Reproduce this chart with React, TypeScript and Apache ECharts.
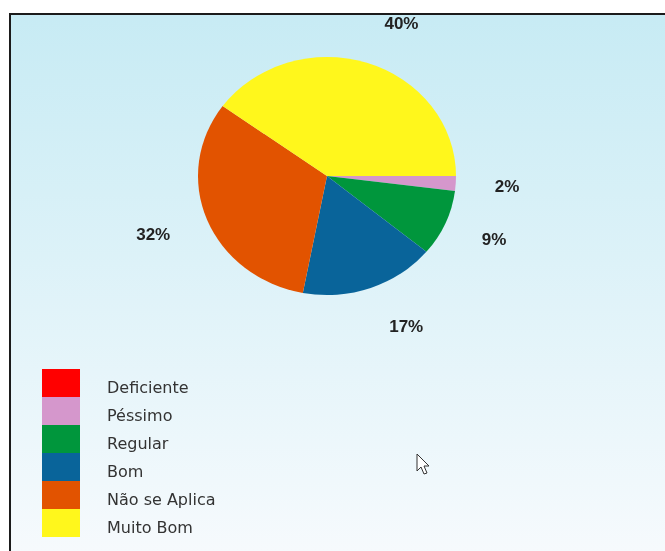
import React, { useEffect, useRef } from 'react';
import * as echarts from 'echarts';

const categories = ['Deficiente', 'Péssimo', 'Regular', 'Bom', 'Não se Aplica', 'Muito Bom'];
const values = [0, 2, 9, 17, 32, 40];
const colors = ['#ff0000', '#d597cc', '#00963c', '#09649a', '#e25300', '#fff71c'];

const W = 656;
const H = 538;
const CX = 318;
const CY = 163;
const R = 129;
const SCALE_Y = 119 / 129;

export default function App() {
  const mainRef = useRef<HTMLDivElement>(null);
  const pieRef = useRef<HTMLDivElement>(null);

  useEffect(() => {
    const main = echarts.init(mainRef.current!, null, { renderer: 'svg' });
    const pie = echarts.init(pieRef.current!, null, { renderer: 'svg' });

    main.setOption({
      animation: false,
      graphic: [
        {
          type: 'rect',
          z: -10,
          silent: true,
          shape: { x: 0, y: 0, width: W, height: H },
          style: {
            fill: new echarts.graphic.LinearGradient(0, 0, 0, 1, [
              { offset: 0, color: '#c7ebf4' },
              { offset: 1, color: '#f6fafd' },
            ]),
          },
        },
        { type: 'rect', z: 10, silent: true, shape: { x: 0, y: 0, width: 2, height: H }, style: { fill: '#1b1b1b' } },
        { type: 'rect', z: 10, silent: true, shape: { x: 0, y: 0, width: W, height: 2 }, style: { fill: '#1b1b1b' } },
        {
          type: 'polygon',
          z: 20,
          silent: true,
          x: 408,
          y: 441,
          shape: { points: [[0, 0], [0, 17], [4, 13], [7, 20], [10, 19], [7, 12], [12, 12]] },
          style: { fill: '#ffffff', stroke: '#333333', lineWidth: 1 },
        },
      ],
      legend: {
        orient: 'vertical',
        left: 28,
        top: 351,
        itemWidth: 38,
        itemHeight: 28,
        itemGap: 0,
        icon: 'rect',
        selectedMode: false,
        data: categories.map((n, i) => ({ name: n, itemStyle: { color: colors[i], borderWidth: 0 } })),
        formatter: '{a|{name}}',
        textStyle: {
          fontFamily: '"DejaVu Sans", sans-serif',
          fontSize: 16,
          color: '#333333',
          rich: {
            a: {
              fontFamily: '"DejaVu Sans", sans-serif',
              fontSize: 16,
              color: '#333333',
              lineHeight: 16,
              padding: [9, 0, 0, 22],
            },
          },
        },
      },
      series: [
        {
          type: 'pie',
          center: [CX, CY],
          radius: R,
          startAngle: 0,
          clockwise: true,
          avoidLabelOverlap: false,
          silent: true,
          emphasis: { disabled: true },
          itemStyle: { borderWidth: 0 },
          data: categories.map((n, i) => ({
            name: n,
            value: values[i],
            itemStyle: { color: 'rgba(0,0,0,0)' },
            label: { show: values[i] > 0 },
          })),
          label: {
            position: 'outside',
            formatter: (p: any) => Math.round(p.percent) + '%',
            fontFamily: '"Liberation Sans", Arial, sans-serif',
            fontWeight: 'bold',
            fontSize: 17,
            color: '#222222',
            distanceToLabelLine: 8,
          },
          labelLine: { show: false, length: 31, length2: 0 },
        },
      ],
    });

    pie.setOption({
      animation: false,
      series: [
        {
          type: 'pie',
          center: [CX, CY],
          radius: R,
          startAngle: 0,
          clockwise: true,
          silent: true,
          emphasis: { disabled: true },
          label: { show: false },
          labelLine: { show: false },
          itemStyle: { borderWidth: 0 },
          data: categories.map((n, i) => ({ name: n, value: values[i], itemStyle: { color: colors[i] } })),
        },
      ],
    });

    return () => {
      main.dispose();
      pie.dispose();
    };
  }, []);

  return (
    <>
      <div ref={mainRef} style={{ position: 'fixed', left: 9, top: 13, width: W, height: H }} />
      <div
        ref={pieRef}
        style={{
          position: 'fixed',
          left: 9,
          top: 13,
          width: W,
          height: H,
          transform: `scaleY(${SCALE_Y})`,
          transformOrigin: `${CX}px ${CY}px`,
        }}
      />
    </>
  );
}
